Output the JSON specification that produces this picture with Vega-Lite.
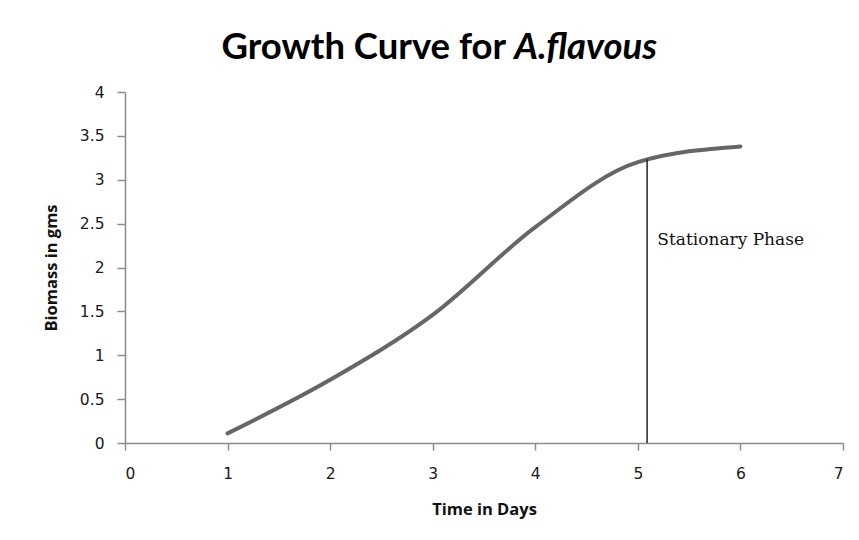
{
  "$schema": "https://vega.github.io/schema/vega-lite/v6.json",
  "width": 718,
  "height": 351,
  "autosize": {"type": "none"},
  "padding": {"left": 125, "top": 92, "right": 16, "bottom": 97},
  "background": "white",
  "config": {
    "view": {"stroke": null},
    "axis": {
      "grid": false,
      "domainColor": "#8c8c8c",
      "tickColor": "#8c8c8c",
      "domainWidth": 1.5,
      "tickWidth": 1.5,
      "labelFont": "DejaVu Sans",
      "labelFontSize": 15.5,
      "labelColor": "#1a1a1a",
      "titleFont": "Open Sans",
      "titleFontWeight": "bold",
      "titleFontSize": 16.5,
      "titleColor": "#111111"
    }
  },
  "layer": [
    {
      "data": {
        "values": [
          {"day": 1, "biomass": 0.11},
          {"day": 2, "biomass": 0.72},
          {"day": 3, "biomass": 1.46},
          {"day": 4, "biomass": 2.46},
          {"day": 5, "biomass": 3.2},
          {"day": 6, "biomass": 3.38}
        ]
      },
      "mark": {"type": "line", "interpolate": "monotone", "color": "#666666", "strokeWidth": 4, "strokeCap": "round"},
      "encoding": {
        "x": {
          "field": "day", "type": "quantitative",
          "scale": {"domain": [0, 7], "nice": false},
          "axis": {"values": [0, 1, 2, 3, 4, 5, 6, 7], "format": "d", "tickSize": 7, "labelPadding": 16, "title": "Time in Days", "titlePadding": 20}
        },
        "y": {
          "field": "biomass", "type": "quantitative",
          "scale": {"domain": [0, 4], "nice": false},
          "axis": {"values": [0, 0.5, 1, 1.5, 2, 2.5, 3, 3.5, 4], "format": "~g", "tickSize": 8, "labelPadding": 13, "title": "Biomass in gms", "titlePadding": 20}
        }
      }
    },
    {
      "data": {"values": [{"day": 5.09, "y0": 0, "y1": 3.23}]},
      "mark": {"type": "rule", "color": "#222222", "strokeWidth": 1.5},
      "encoding": {
        "x": {"field": "day", "type": "quantitative"},
        "y": {"field": "y0", "type": "quantitative"},
        "y2": {"field": "y1"}
      }
    },
    {
      "data": {"values": [{"day": 5.19, "biomass": 2.31, "label": "Stationary Phase"}]},
      "mark": {"type": "text", "align": "left", "baseline": "middle", "font": "DejaVu Serif", "fontSize": 17, "color": "#111111"},
      "encoding": {
        "x": {"field": "day", "type": "quantitative"},
        "y": {"field": "biomass", "type": "quantitative"},
        "text": {"field": "label"}
      }
    },
    {
      "data": {"values": [{"day": 3.755, "biomass": 4.38, "label": "Growth Curve for"}]},
      "mark": {"type": "text", "align": "right", "baseline": "alphabetic", "dx": -4, "font": "Lato", "fontWeight": "bold", "fontSize": 36.5, "color": "#000000"},
      "encoding": {
        "x": {"field": "day", "type": "quantitative"},
        "y": {"field": "biomass", "type": "quantitative"},
        "text": {"field": "label"}
      }
    },
    {
      "data": {"values": [{"day": 3.755, "biomass": 4.38, "label": "A.flavous"}]},
      "mark": {"type": "text", "align": "left", "baseline": "alphabetic", "dx": 4, "font": "Lato", "fontWeight": "bold", "fontStyle": "italic", "fontSize": 36.5, "color": "#000000"},
      "encoding": {
        "x": {"field": "day", "type": "quantitative"},
        "y": {"field": "biomass", "type": "quantitative"},
        "text": {"field": "label"}
      }
    }
  ]
}
